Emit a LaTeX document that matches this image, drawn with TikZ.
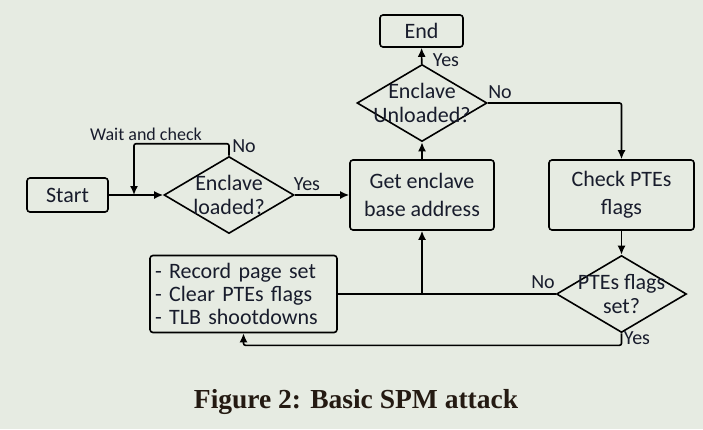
\documentclass[tikz,border=0pt]{standalone}
\usepackage{fontspec}
\setmainfont{Carlito}
\newfontfamily\capfont{Liberation Serif}
\usetikzlibrary{arrows.meta,shapes.geometric,positioning}
\definecolor{bgcol}{HTML}{E6EBE2}
\definecolor{inkcol}{HTML}{181C2C}
\definecolor{capcol}{HTML}{241A12}
\tikzstyle{process}=[
	rectangle,
	rounded corners=3pt,
	draw=black,
	line width=1.6pt,
	text=inkcol,
	font=\fontsize{22}{28}\selectfont,
	align=center,
	inner sep=0pt
]
\tikzstyle{decision}=[
	diamond,
	draw=black,
	line width=1.6pt,
	text=inkcol,
	font=\fontsize{22}{24.5}\selectfont,
	align=center,
	inner sep=0pt,
	minimum width=130pt,
	minimum height=77pt
]
\tikzstyle{flow}=[
	-{Latex[length=9pt,width=8pt]},
	line width=1.6pt,
	rounded corners=2pt
]
\tikzstyle{answer}=[
	text=inkcol,
	font=\fontsize{20}{20}\selectfont,
	inner sep=0pt
]
\newcommand{\zw}[1]{\makebox[0pt]{#1}}

\begin{document}
\begin{tikzpicture}[x=1pt,y=-1pt]
\fill[bgcol] (0,0) rectangle (703,429);
\useasboundingbox (0,0) rectangle (703,429);

\node [process, minimum width=81pt, minimum height=34pt] (Start) at (67.5,195) {Start};
\node [decision] (Loaded) at (229,195) {\zw{Enclave}\\\zw{loaded?}};
\node [process, minimum width=144pt, minimum height=70pt] (Get) at (422,195) {Get enclave\\base address};
\node [decision] (Unloaded) at (422,103) {\zw{Enclave}\\\zw{Unloaded?}};
\node [process, minimum width=83pt, minimum height=32pt] (End) at (421.5,31) {End};
\node [process, minimum width=145pt, minimum height=70pt] (Check) at (621.5,195) {Check PTEs\\flags};
\node [decision] (PTEs) at (621.5,294) {\zw{PTEs flags}\\\zw{set?}};
\node [process, align=left, text width=177pt, inner sep=5pt, minimum height=77pt,
	font=\fontsize{22}{23}\selectfont] (Record) at (243.5,294)
	{- Record page set\\- Clear PTEs flags\\- TLB shootdowns};

% connectors
\coordinate (waitjoin) at (134,195);
\draw [flow] (Start) -- (Loaded);
\draw [flow] (Loaded.north) -- ++(0,-12) -| (waitjoin);
\draw [flow] (Loaded) -- (Get);
\draw [flow] (Get) -- (Unloaded);
\draw [flow] (Unloaded) -- (End);
\draw [flow] (Unloaded.east) -| (Check.north);
\draw [flow] (Check) -- (PTEs);
\draw [line width=1.6pt] (PTEs.west) -- (Record.east);
\coordinate (nojoin) at (Get.south |- PTEs.west);
\draw [flow] (nojoin) -- (Get.south);
\draw [flow] (PTEs.south) -- ++(0,12) -| (Record.south);

% labels
\node [answer, font=\fontsize{18}{18}\selectfont] (waitlbl) at (146,134) {Wait and check};
\node [answer] (noLoaded) at (244,146) {No};
\node [answer] (yesLoaded) at (307,184) {Yes};
\node [answer] (yesUnloaded) at (446,60) {Yes};
\node [answer] (noUnloaded) at (500,92) {No};
\node [answer] (noPTEs) at (543,282) {No};
\node [answer] (yesPTEs) at (637,338) {Yes};

\node [font=\capfont\bfseries\fontsize{27.5}{30}\selectfont, text=capcol] (caption) at (356,402) {Figure 2: Basic SPM attack};
\end{tikzpicture}
\end{document}
